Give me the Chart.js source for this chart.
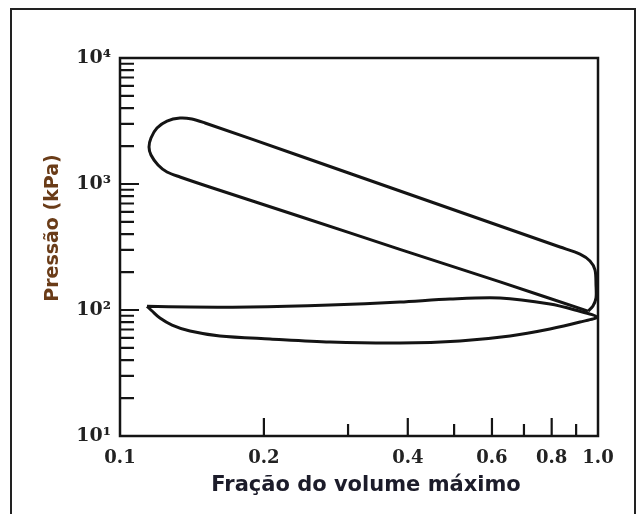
<!DOCTYPE html>
<html>
<head>
<meta charset="utf-8">
<script src="https://cdn.jsdelivr.net/npm/chart.js@4/dist/chart.umd.min.js"></script>
<style>
  html, body { margin: 0; padding: 0; background: #fff; overflow: hidden; }
  #wrap { position: relative; width: 644px; height: 514px; }
  #frame { position: absolute; left: 10px; top: 8px; width: 626px; height: 520px; border: 2px solid #222; box-sizing: border-box; pointer-events: none; }
  canvas { position: absolute; left: 0; top: 0; }
</style>
</head>
<body>
<div id="wrap">
  <canvas id="pv" width="644" height="514"></canvas>
  <div id="frame"></div>
</div>
<script>
// volume fraction (V/Vmax) and pressure (kPa) along the high pressure loop
const highLoopV = [0.953, 0.624, 0.385, 0.238, 0.154, 0.1335, 0.1254, 0.1201, 0.1161, 0.115, 0.1161, 0.1195,
  0.1254, 0.1335, 0.1414, 0.1506, 0.2381, 0.3853, 0.6237, 0.8329, 0.917, 0.9622, 0.9856, 0.9904, 0.9904, 0.9761, 0.953]
const highLoopP = [98, 167, 303, 552, 947, 1137, 1245, 1415, 1699, 1967, 2318, 2782,
  3162, 3341, 3281, 3049, 1668, 880, 464, 316, 278, 245, 208, 158, 124.5, 107.6, 98]

// gas exchange (pumping) loop
const pumpLoopV = [0.1139, 0.1167, 0.1212, 0.1285, 0.1401, 0.1618, 0.206, 0.275, 0.3853, 0.514, 0.6545, 0.7935,
  0.917, 0.9952, 0.8952, 0.7935, 0.6237, 0.4902, 0.3853, 0.275, 0.1871, 0.1401, 0.1139]
const pumpLoopP = [107, 98.2, 86.4, 76.0, 68.1, 62.2, 58.9, 55.7, 54.7, 56.8, 62.2, 70.7,
  80.3, 88.0, 100, 111.6, 124.5, 122.3, 115.7, 109.6, 105.6, 105.6, 107]

// axis ticks
const xTicks = [0.1, 0.2, 0.4, 0.6, 0.8, 1.0]
const xTickLabels = ['0.1', '0.2', '0.4', '0.6', '0.8', '1.0']
const xLongMarks = [0.2, 0.4, 0.6, 0.8]
const xShortMarks = [0.3, 0.5, 0.7, 0.9]
const yTicks = [10, 100, 1000, 10000]
const yTickLabels = ['10¹', '10²', '10³', '10⁴']
const yLongMarks = [100, 1000]
const yShortMarks = [20, 30, 40, 50, 60, 70, 80, 90, 200, 300, 400, 500, 600, 700, 800, 900,
  2000, 3000, 4000, 5000, 6000, 7000, 8000, 9000]

const xTitle = 'Fração do volume máximo'
const yTitle = 'Pressão (kPa)'

const toPoints = (vs, ps) => vs.map((v, i) => ({ x: v, y: ps[i] }))

const ink = '#141414'

// frame, inward tick marks and axis titles
const frameAndMarks = {
  id: 'frameAndMarks',
  afterDraw (chart) {
    const { ctx, chartArea: a, scales } = chart
    const x = scales.x
    const y = scales.y
    ctx.save()
    ctx.strokeStyle = ink
    ctx.lineWidth = 2.5
    ctx.strokeRect(a.left, a.top, a.right - a.left, a.bottom - a.top)

    ctx.lineWidth = 2.2
    ctx.beginPath()
    for (const v of yLongMarks) {
      const py = y.getPixelForValue(v)
      ctx.moveTo(a.left, py); ctx.lineTo(a.left + 19, py)
    }
    for (const v of yShortMarks) {
      const py = y.getPixelForValue(v)
      ctx.moveTo(a.left, py); ctx.lineTo(a.left + 14, py)
    }
    for (const v of xLongMarks) {
      const px = x.getPixelForValue(v)
      ctx.moveTo(px, a.bottom); ctx.lineTo(px, a.bottom - 18)
    }
    for (const v of xShortMarks) {
      const px = x.getPixelForValue(v)
      ctx.moveTo(px, a.bottom); ctx.lineTo(px, a.bottom - 12)
    }
    ctx.stroke()

    ctx.textAlign = 'center'
    ctx.textBaseline = 'middle'
    ctx.font = 'bold 21px "DejaVu Sans", Verdana, sans-serif'
    ctx.fillStyle = '#1c1c2a'
    ctx.fillText(xTitle, 366, 486)

    ctx.translate(53, 228)
    ctx.rotate(-Math.PI / 2)
    ctx.font = 'bold 19px "DejaVu Sans", Verdana, sans-serif'
    ctx.fillStyle = '#6a3c18'
    ctx.fillText(yTitle, 0, 0)
    ctx.restore()
  }
}

new Chart(document.getElementById('pv'), {
  type: 'scatter',
  data: {
    datasets: [
      {
        label: 'high pressure loop',
        data: toPoints(highLoopV, highLoopP),
        showLine: true,
        borderColor: ink,
        borderWidth: 3,
        pointRadius: 0,
        tension: 0.3
      },
      {
        label: 'pumping loop',
        data: toPoints(pumpLoopV, pumpLoopP),
        showLine: true,
        borderColor: ink,
        borderWidth: 3,
        pointRadius: 0,
        tension: 0.3
      }
    ]
  },
  options: {
    responsive: false,
    animation: false,
    layout: { padding: { top: 58, right: 46, left: 0, bottom: 0 } },
    plugins: {
      legend: { display: false },
      tooltip: { enabled: false }
    },
    scales: {
      x: {
        type: 'logarithmic',
        min: 0.1,
        max: 1.0,
        afterFit: (s) => { s.height = 78 },
        afterBuildTicks: (s) => { s.ticks = xTicks.map(v => ({ value: v })) },
        grid: { display: false, drawTicks: false },
        border: { display: false },
        ticks: {
          autoSkip: false,
          maxRotation: 0,
          minRotation: 0,
          padding: 12,
          color: '#222',
          font: { family: '"DejaVu Serif", serif', size: 18, weight: 'bold' },
          callback: (v) => xTickLabels[xTicks.findIndex(t => Math.abs(t - v) < 1e-9)] ?? ''
        }
      },
      y: {
        type: 'logarithmic',
        min: 10,
        max: 10000,
        afterFit: (s) => { s.width = 120 },
        afterBuildTicks: (s) => { s.ticks = yTicks.map(v => ({ value: v })) },
        grid: { display: false, drawTicks: false },
        border: { display: false },
        ticks: {
          autoSkip: false,
          padding: 9,
          color: '#222',
          font: { family: '"DejaVu Serif", serif', size: 19, weight: 'bold' },
          callback: (v) => yTickLabels[yTicks.indexOf(v)] ?? ''
        }
      }
    }
  },
  plugins: [frameAndMarks]
})
</script>
</body>
</html>
